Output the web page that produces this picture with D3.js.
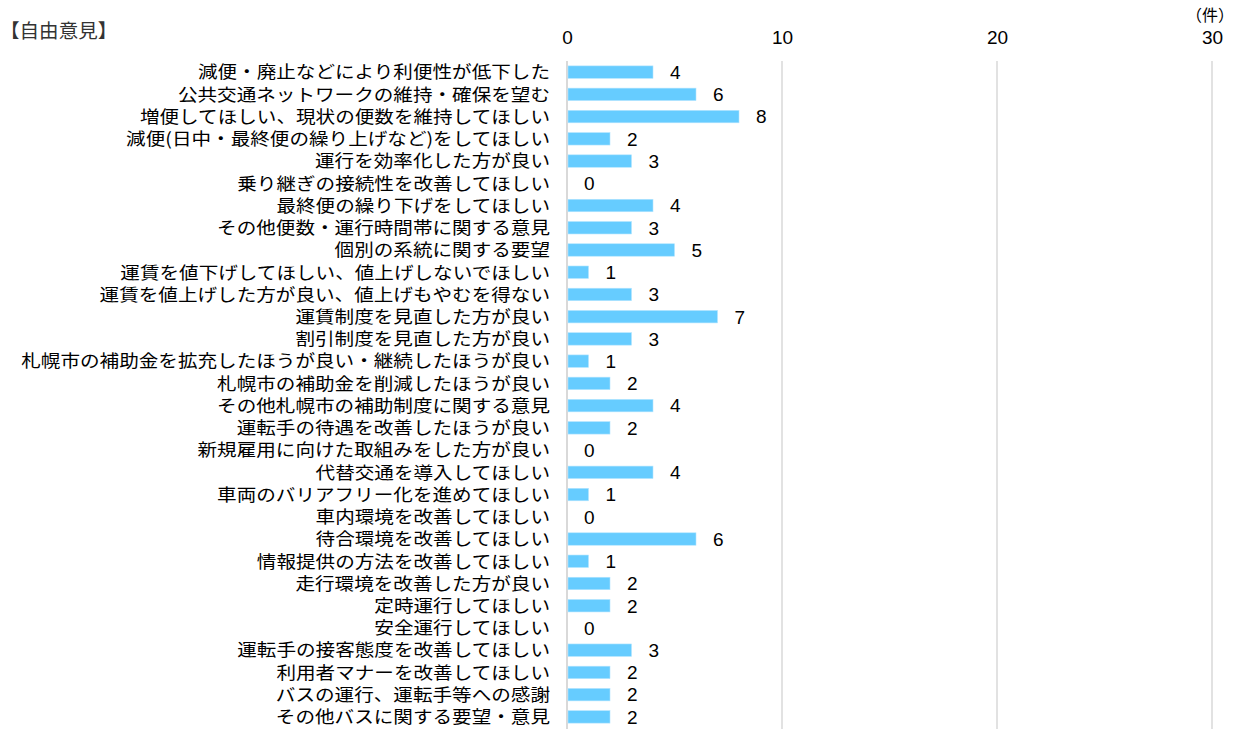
<!DOCTYPE html>
<html><head><meta charset="utf-8">
<script src="https://cdn.jsdelivr.net/npm/d3@7"></script>
<style>body{margin:0;background:#fff;}svg{display:block;}</style>
</head><body>
<script>
const categories = [
 "減便・廃止などにより利便性が低下した",
 "公共交通ネットワークの維持・確保を望む",
 "増便してほしい、現状の便数を維持してほしい",
 "減便(日中・最終便の繰り上げなど)をしてほしい",
 "運行を効率化した方が良い",
 "乗り継ぎの接続性を改善してほしい",
 "最終便の繰り下げをしてほしい",
 "その他便数・運行時間帯に関する意見",
 "個別の系統に関する要望",
 "運賃を値下げしてほしい、値上げしないでほしい",
 "運賃を値上げした方が良い、値上げもやむを得ない",
 "運賃制度を見直した方が良い",
 "割引制度を見直した方が良い",
 "札幌市の補助金を拡充したほうが良い・継続したほうが良い",
 "札幌市の補助金を削減したほうが良い",
 "その他札幌市の補助制度に関する意見",
 "運転手の待遇を改善したほうが良い",
 "新規雇用に向けた取組みをした方が良い",
 "代替交通を導入してほしい",
 "車両のバリアフリー化を進めてほしい",
 "車内環境を改善してほしい",
 "待合環境を改善してほしい",
 "情報提供の方法を改善してほしい",
 "走行環境を改善した方が良い",
 "定時運行してほしい",
 "安全運行してほしい",
 "運転手の接客態度を改善してほしい",
 "利用者マナーを改善してほしい",
 "バスの運行、運転手等への感謝",
 "その他バスに関する要望・意見"
];
const values = [4,6,8,2,3,0,4,3,5,1,3,7,3,1,2,4,2,0,4,1,0,6,1,2,2,0,3,2,2,2];
const tickValues = [0,10,20,30];
const title = "【自由意見】";
const unitLabel = "（件）";

const W = 1249, H = 743;
const svg = d3.select("body").append("svg").attr("width", W).attr("height", H);
const x = d3.scaleLinear().domain([0,30]).range([567,1212]);
const y = d3.scaleBand().domain(categories).range([61,728]).paddingInner(0.44).paddingOuter(0.22);

const jp = "'Noto Sans CJK JP','Noto Sans',sans-serif";
const num = "'Liberation Sans',Arial,sans-serif";

// gridlines
svg.append("g").selectAll("line").data(tickValues).join("line")
  .attr("x1", d=>x(d)).attr("x2", d=>x(d)).attr("y1", 61).attr("y2", 729)
  .attr("stroke", "#d9d9d9").attr("stroke-width", d=>d===0?2:1.5);

// top axis
const ax = svg.append("g").attr("transform","translate(0,44)")
  .call(d3.axisTop(x).tickValues(tickValues).tickSize(0).tickPadding(0).tickFormat(d3.format("d")));
ax.select(".domain").remove();
ax.selectAll("text").attr("font-family", num).attr("font-size", 19).attr("fill","#000");

svg.append("text").attr("x", 1210).attr("y", 21).attr("text-anchor","middle")
  .attr("font-family", jp).attr("font-size", 16).attr("fill","#000").text(unitLabel);

svg.append("text").attr("x", 0).attr("y", 38)
  .attr("font-family", jp).attr("font-size", 19).attr("fill","#333")
  .attr("transform","scale(1.03,1)").text(title);

// bars
svg.append("g").selectAll("rect").data(values).join("rect")
  .attr("x", x(0)+1).attr("y", (d,i)=>y(categories[i]))
  .attr("width", d=>Math.max(0, x(d)-x(0)-1)).attr("height", y.bandwidth())
  .attr("fill", "#66ccff").attr("stroke","#b3e5ff").attr("stroke-width",0.6);

// value labels
svg.append("g").selectAll("text").data(values).join("text")
  .attr("x", d=>x(d)+17).attr("y", (d,i)=>y(categories[i])+y.bandwidth()/2)
  .attr("dy","0.36em").attr("font-family", num).attr("font-size", 19).attr("fill","#000")
  .text(d=>d);

// category labels (slightly widened to match reference glyph width)
svg.append("g").attr("transform","translate(550,0) scale(1.12,1)")
  .selectAll("text").data(categories).join("text")
  .attr("x", 0).attr("y", d=>y(d)+y.bandwidth()/2).attr("dy","0.36em")
  .attr("text-anchor","end").attr("font-family", jp).attr("font-size", 17.5).attr("fill","#000")
  .text(d=>d);
</script>
</body></html>
